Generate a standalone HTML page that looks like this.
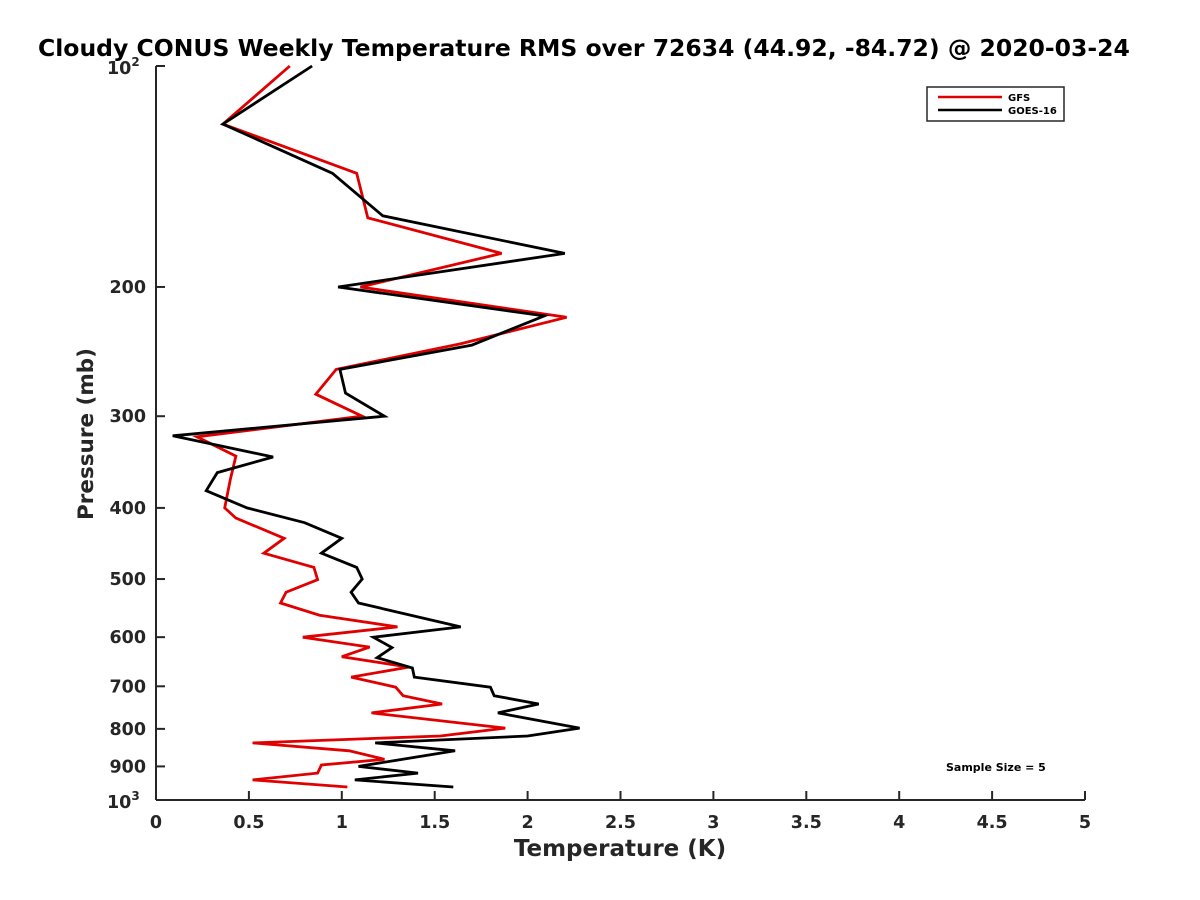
<!DOCTYPE html>
<html><head><meta charset="utf-8"><style>
body{margin:0;background:#fff}
svg{display:block;font-family:"DejaVu Sans","Liberation Sans",sans-serif;font-weight:bold}
</style></head><body>
<svg id="chart" width="1200" height="900" viewBox="0 0 1200 900" xmlns="http://www.w3.org/2000/svg">
<rect width="1200" height="900" fill="#fff"/>
<text x="38" y="56" font-size="23.5" fill="#000">Cloudy CONUS Weekly Temperature RMS over 72634 (44.92, -84.72) @ 2020-03-24</text>
<g id="axes"></g>
<g id="series"></g>
<g>
<rect x="927" y="87" width="137" height="34" fill="#fff" stroke="#262626" stroke-width="1.5"/>
<line x1="938" y1="97" x2="1002" y2="97" stroke="#e00000" stroke-width="2.5"/>
<text x="1008" y="101" font-size="10">GFS</text>
<line x1="938" y1="110" x2="1002" y2="110" stroke="#000" stroke-width="2.5"/>
<text x="1008" y="114" font-size="10">GOES-16</text>
</g>
<text x="946" y="771" font-size="11">Sample Size = 5</text>
<text x="620" y="856" font-size="23" text-anchor="middle" fill="#262626">Temperature (K)</text>
<text transform="translate(93,434) rotate(-90)" font-size="21.5" text-anchor="middle" fill="#262626">Pressure (mb)</text>
</svg>
<script>
const xTicks=[0,0.5,1,1.5,2,2.5,3,3.5,4,4.5,5];
const xTickLabels=["0","0.5","1","1.5","2","2.5","3","3.5","4","4.5","5"];
const yTicks=[100,200,300,400,500,600,700,800,900,1000];
const yTickLabels=["","200","300","400","500","600","700","800","900",""];
const gfsPressure=[100,120,140,161,180,200,220,239,259,280,300,320,340,366,400,413,440,461,482,501,521,539,560,581,600,619,638,659,680,702,721,740,761,798,818,836,857,880,896,919,939,960];
const gfsTemp=[0.72,0.36,1.08,1.14,1.86,1.10,2.21,1.64,0.97,0.86,1.11,0.22,0.43,0.40,0.37,0.43,0.69,0.58,0.85,0.87,0.70,0.67,0.88,1.30,0.79,1.15,1.00,1.36,1.05,1.29,1.33,1.54,1.16,1.88,1.53,0.52,1.04,1.23,0.89,0.87,0.52,1.03];
const goesPressure=[100,120,140,160,180,200,219,240,259,279,300,319,341,358,379,400,419,440,461,482,500,521,539,581,600,620,640,661,680,702,721,740,761,798,818,836,857,900,919,939,960];
const goesTemp=[0.84,0.36,0.95,1.22,2.20,0.98,2.09,1.70,0.99,1.02,1.23,0.09,0.63,0.33,0.27,0.49,0.80,1.00,0.89,1.08,1.11,1.05,1.09,1.64,1.17,1.27,1.19,1.38,1.39,1.80,1.82,2.06,1.84,2.28,2.00,1.18,1.61,1.09,1.41,1.07,1.60];
const X0=156,X1=1085,Y0=66,Y1=800;
const sx=v=>X0+(v-0)/(5-0)*(X1-X0);
const sy=p=>Y0+(Math.log10(p)-2)*(Y1-Y0);
const NS="http://www.w3.org/2000/svg";
function mk(tag,attrs,parent){const e=document.createElementNS(NS,tag);for(const k in attrs)e.setAttribute(k,attrs[k]);parent.appendChild(e);return e;}
const axes=document.getElementById('axes');
const ax=mk('line',{x1:X0,y1:Y1,x2:X1,y2:Y1,stroke:'#262626','stroke-width':2},axes);


const ay=mk('line',{x1:X0,y1:Y0,x2:X0,y2:Y1,stroke:'#262626','stroke-width':2},axes);


xTicks.forEach((v,i)=>{
  const t=mk('line',{x1:sx(v),y1:Y1,x2:sx(v),y2:Y1-9,stroke:'#262626','stroke-width':2},axes);
  
  
  const l=mk('text',{x:sx(v),y:Y1+28,'font-size':17.5,'text-anchor':'middle',fill:'#262626'},axes);
  l.textContent=xTickLabels[i];
  
  
});
yTicks.forEach((p,i)=>{
  const t=mk('line',{x1:X0,y1:sy(p),x2:X0+9,y2:sy(p),stroke:'#262626','stroke-width':2},axes);
  
  
  if(yTickLabels[i]){
    const l=mk('text',{x:X0-10,y:sy(p)+6,'font-size':17.5,'text-anchor':'end',fill:'#262626'},axes);
    l.textContent=yTickLabels[i];
    
    
  }
});
[[100,'2'],[1000,'3']].forEach(([p,e])=>{
  const l=mk('text',{x:X0-49,y:sy(p)+8,'font-size':17.5,fill:'#262626'},axes);
  l.textContent='10';
  
  
  const s=mk('tspan',{dy:-8,'font-size':12},l);
  s.textContent=e;
});
const sg=document.getElementById('series');
function line(ps,ts,color,name){
  const pts=ps.map((p,i)=>sx(ts[i]).toFixed(1)+','+sy(p).toFixed(1)).join(' ');
  const pl=mk('polyline',{points:pts,fill:'none',stroke:color,'stroke-width':2.8,'stroke-linejoin':'miter'},sg);
  
  
}
line(gfsPressure,gfsTemp,'#e00000','gfs-line');
line(goesPressure,goesTemp,'#000000','goes16-line');
</script>
</body></html>
